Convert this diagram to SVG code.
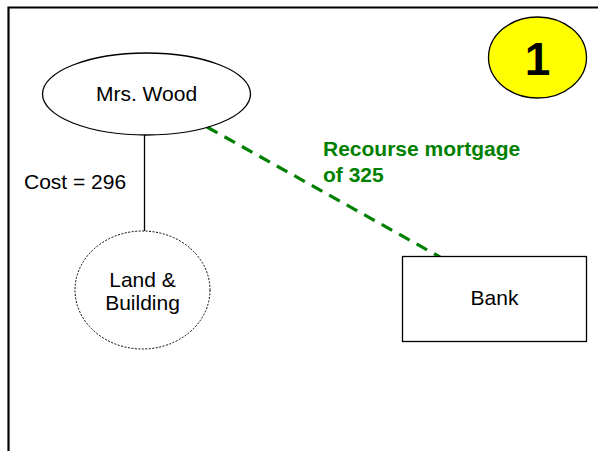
<svg xmlns="http://www.w3.org/2000/svg" width="598" height="451" viewBox="0 0 598 451">
<style>
text{font-family:"Liberation Sans",Arial,sans-serif;fill:#000}
.lbl{font-size:21px}
.g{fill:#008000;font-weight:bold;font-size:21px}
.shape{fill:#fff;stroke:#000;stroke-width:1.3}
</style>
<rect width="598" height="451" fill="#fff"/>
<path d="M8.5 451V7.5H598" fill="none" stroke="#000" stroke-width="2.2"/>
<g id="connectors">
<line x1="144.5" y1="135" x2="144.5" y2="231" stroke="#000" stroke-width="1.3"/>
<line x1="207" y1="127" x2="440" y2="257" stroke="#008000" stroke-width="3.2" stroke-dasharray="12 8"/>
<text class="lbl" x="24" y="189">Cost = 296</text>
<text class="g" x="323" y="156">Recourse mortgage</text>
<text class="g" x="323" y="182">of 325</text>
</g>
<g id="mrs-wood">
<ellipse class="shape" cx="146.5" cy="94" rx="104" ry="41"/>
<text class="lbl" x="146.5" y="101" text-anchor="middle">Mrs. Wood</text>
</g>
<g id="land-building">
<ellipse cx="142.5" cy="290" rx="67.5" ry="59" fill="#fff" stroke="#000" stroke-width="1" stroke-dasharray="2 1.5"/>
<text class="lbl" x="142.5" y="287" text-anchor="middle">Land &amp;</text>
<text class="lbl" x="142.5" y="310" text-anchor="middle">Building</text>
</g>
<g id="bank">
<rect class="shape" x="402.5" y="256.5" width="184" height="85"/>
<text class="lbl" x="494.5" y="305" text-anchor="middle">Bank</text>
</g>
<g id="badge">
<ellipse cx="537.5" cy="57.5" rx="49" ry="40.5" fill="#ffff00" stroke="#000" stroke-width="1.3"/>
<text x="537.5" y="75" text-anchor="middle" font-size="46" font-weight="bold">1</text>
</g>
</svg>
